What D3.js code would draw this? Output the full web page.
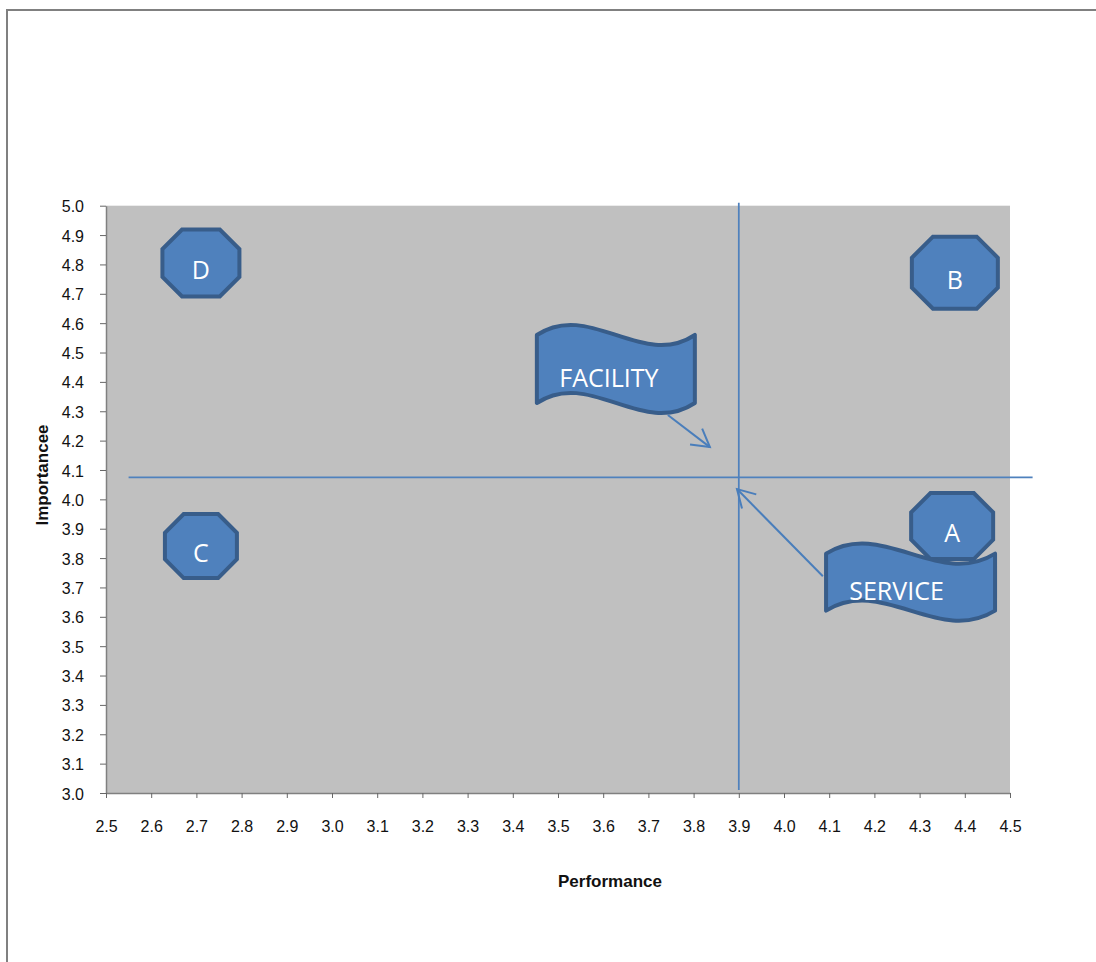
<!DOCTYPE html>
<html>
<head>
<meta charset="utf-8">
<script src="https://cdn.jsdelivr.net/npm/d3@7"></script>
<style>
  html, body { margin: 0; padding: 0; background: #ffffff; }
  svg { display: block; }
</style>
</head>
<body>
<svg id="chart" width="1096" height="962"></svg>
<script>
// ---------------- DATA ----------------
const categories = ["A", "B", "C", "D"];
const performance = [4.372, 4.378, 2.710, 2.710];   // x values
const importance  = [3.909, 4.772, 3.841, 4.805];   // y values

const xTicks = [2.5, 2.6, 2.7, 2.8, 2.9, 3.0, 3.1, 3.2, 3.3, 3.4, 3.5, 3.6, 3.7, 3.8, 3.9, 4.0, 4.1, 4.2, 4.3, 4.4, 4.5];
const yTicks = [3.0, 3.1, 3.2, 3.3, 3.4, 3.5, 3.6, 3.7, 3.8, 3.9, 4.0, 4.1, 4.2, 4.3, 4.4, 4.5, 4.6, 4.7, 4.8, 4.9, 5.0];

// quadrant divider lines
const hLineX = [2.55, 4.55];
const hLineY = 4.075;
const vLineX = 3.9;
const vLineY = [3.01, 5.01];

// call-out banners
const bannerLabels = ["FACILITY", "SERVICE"];
const bannerX = [3.628, 4.280];
const bannerY = [4.444, 3.718];
// arrows from banner to quadrant intersection
const arrowFromX = [3.743, 4.086];
const arrowFromY = [4.287, 3.738];
const arrowToX   = [3.836, 3.896];
const arrowToY   = [4.178, 4.035];

const xTitle = "Performance";
const yTitle = "Importancee";

// ---------------- DRAWING ----------------
const svg = d3.select("#chart");
const plot = { left: 106, right: 1010, top: 205.7, bottom: 793 };

const x = d3.scaleLinear().domain([2.5, 4.5]).range([plot.left, plot.right]);
const y = d3.scaleLinear().domain([3.0, 5.0]).range([plot.bottom, plot.top]);

// outer chart frame (extends beyond the viewport on right/bottom)
svg.append("path")
  .attr("d", "M7,970 L7,10 L1100,10")
  .attr("fill", "none")
  .attr("stroke", "#808080")
  .attr("stroke-width", 2);

// plot background
svg.append("rect")
  .attr("x", plot.left).attr("y", plot.top)
  .attr("width", plot.right - plot.left)
  .attr("height", plot.bottom - plot.top)
  .attr("fill", "#c0c0c0");

const fmt = d3.format(".1f");

// Y axis
const yAxis = svg.append("g")
  .attr("transform", `translate(${plot.left},0)`)
  .call(d3.axisLeft(y).tickValues(yTicks).tickFormat(fmt).tickSize(6).tickSizeOuter(0).tickPadding(16));
// X axis
const xAxis = svg.append("g")
  .attr("transform", `translate(0,${plot.bottom})`)
  .call(d3.axisBottom(x).tickValues(xTicks).tickFormat(fmt).tickSize(5).tickSizeOuter(0).tickPadding(23));

[yAxis, xAxis].forEach(g => {
  g.select(".domain").attr("stroke", "#808080").attr("stroke-width", 1.5);
  g.selectAll(".tick line").attr("stroke", "#666666").attr("stroke-width", 1);
  g.selectAll(".tick text")
    .attr("fill", "#111111")
    .style("font-family", "'Liberation Sans', Arial, sans-serif")
    .style("font-size", "16px");
});
yAxis.selectAll(".tick text").attr("dy", "0.38em");

// axis titles
svg.append("text")
  .attr("x", 610).attr("y", 887)
  .attr("text-anchor", "middle")
  .style("font-family", "'Liberation Sans', Arial, sans-serif")
  .style("font-size", "17px").style("font-weight", "bold")
  .attr("fill", "#111111")
  .text(xTitle);

svg.append("text")
  .attr("transform", "translate(48,475) rotate(-90)")
  .attr("text-anchor", "middle")
  .style("font-family", "'Liberation Sans', Arial, sans-serif")
  .style("font-size", "17px").style("font-weight", "bold")
  .attr("fill", "#111111")
  .text(yTitle);

// quadrant lines
const lineColor = "#4f81bd";
svg.append("line")
  .attr("x1", x(hLineX[0])).attr("x2", x(hLineX[1]))
  .attr("y1", y(hLineY)).attr("y2", y(hLineY))
  .attr("stroke", lineColor).attr("stroke-width", 1.75);
svg.append("line")
  .attr("x1", x(vLineX)).attr("x2", x(vLineX))
  .attr("y1", y(vLineY[0])).attr("y2", y(vLineY[1]))
  .attr("stroke", lineColor).attr("stroke-width", 1.75);

// octagon markers
const fillBlue = "#4f81bd";
const strokeBlue = "#385d8a";
const octSize = { A: [82, 66], B: [86, 72], C: [72, 64], D: [77, 67] };

function octagon(cx, cy, w, h) {
  const c = 0.293 * Math.min(w, h);
  const l = cx - w / 2, r = cx + w / 2, t = cy - h / 2, b = cy + h / 2;
  return `M${l + c},${t} L${r - c},${t} L${r},${t + c} L${r},${b - c} L${r - c},${b} L${l + c},${b} L${l},${b - c} L${l},${t + c} Z`;
}

const pts = categories.map((c, i) => ({ name: c, px: performance[i], py: importance[i] }));
const octG = svg.append("g");
pts.forEach(d => {
  const [w, h] = octSize[d.name];
  const cx = x(d.px), cy = y(d.py);
  octG.append("path")
    .attr("d", octagon(cx, cy, w, h))
    .attr("fill", fillBlue)
    .attr("stroke", strokeBlue)
    .attr("stroke-width", 4)
    .attr("stroke-linejoin", "miter");
  octG.append("text")
    .attr("x", cx).attr("y", cy + 16)
    .attr("text-anchor", "middle")
    .attr("fill", "#ffffff")
    .style("font-family", "'Open Sans', sans-serif")
    .style("font-size", "25px")
    .text(d.name);
});

// wave banners
const bannerSize = [[158, 68], [169, 57]];
const bannerTextDx = [-7, -14];
function wave(cx, cy, W, H, a) {
  const x0 = cx - W / 2, y0 = cy - H / 2, y1 = cy + H / 2;
  return `M${x0},${y0} C${x0 + W / 3},${y0 - a} ${x0 + 2 * W / 3},${y0 + a} ${x0 + W},${y0} ` +
         `L${x0 + W},${y1} C${x0 + 2 * W / 3},${y1 + a} ${x0 + W / 3},${y1 - a} ${x0},${y1} Z`;
}

const arrowColor = "#4a7ebb";
function arrow(g, x1, y1, x2, y2) {
  g.append("line")
    .attr("x1", x1).attr("y1", y1).attr("x2", x2).attr("y2", y2)
    .attr("stroke", arrowColor).attr("stroke-width", 2);
  const ang = Math.atan2(y1 - y2, x1 - x2);
  const L = 20, spread = Math.PI / 6;
  const p1 = [x2 + L * Math.cos(ang - spread), y2 + L * Math.sin(ang - spread)];
  const p2 = [x2 + L * Math.cos(ang + spread), y2 + L * Math.sin(ang + spread)];
  g.append("path")
    .attr("d", `M${p1[0]},${p1[1]} L${x2},${y2} L${p2[0]},${p2[1]}`)
    .attr("fill", "none")
    .attr("stroke", arrowColor).attr("stroke-width", 2);
}

const banG = svg.append("g");
bannerLabels.forEach((lab, i) => {
  const cx = x(bannerX[i]), cy = y(bannerY[i]);
  const [W, H] = bannerSize[i];
  banG.append("path")
    .attr("d", wave(cx, cy, W, H, 35))
    .attr("fill", fillBlue)
    .attr("stroke", strokeBlue)
    .attr("stroke-width", 4)
    .attr("stroke-linejoin", "round");
  banG.append("text")
    .attr("x", cx + bannerTextDx[i]).attr("y", cy + 18)
    .attr("text-anchor", "middle")
    .attr("fill", "#ffffff")
    .style("font-family", "'Open Sans', sans-serif")
    .style("font-size", "25px")
    .text(lab);
  arrow(banG, x(arrowFromX[i]), y(arrowFromY[i]), x(arrowToX[i]), y(arrowToY[i]));
});
</script>
</body>
</html>
